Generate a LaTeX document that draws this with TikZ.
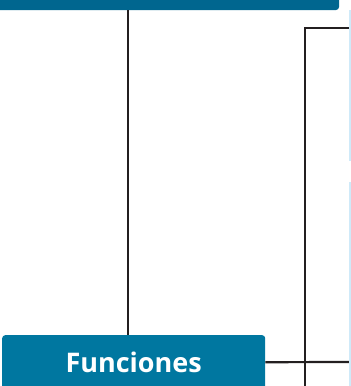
\documentclass[tikz,border=0pt]{standalone}
\usepackage{fontspec}
\setsansfont{Open Sans}
\definecolor{azulosc}{HTML}{00668F}
\definecolor{azul}{HTML}{0077A0}
\definecolor{celeste}{HTML}{CFEAF9}
\definecolor{linea}{HTML}{231F20}
\begin{document}
\begin{tikzpicture}[x=1pt,y=-1pt,
  caja/.style={fill=azul,rounded corners=3pt,text=white,inner sep=0pt,
    font=\sffamily\bfseries\fontsize{27}{27}\selectfont},
  conector/.style={draw=linea,line width=2.2pt}]
\useasboundingbox (0,0) rectangle (351,386);

% Barra superior
\fill[azulosc,rounded corners=3pt] (-6,-6) rectangle (339,10);
\coordinate (titulo) at (128,10);

% Caja de funciones
\node[caja,minimum width=263pt,minimum height=54pt,anchor=north west] (funciones) at (2,335) {Funciones};

% Conectores
\draw[conector] (titulo) -- (titulo |- funciones.north);
\coordinate (ramaA) at (349,28);
\coordinate (ramaB) at (305,392);
\coordinate (ramaC) at (349,362);
\draw[conector] (ramaA) -- (ramaB |- ramaA) -- (ramaB);
\draw[conector] (funciones.east) -- (ramaC);

% Linea celeste del borde
\draw[celeste,line width=1.5pt] (350,10) -- (350,161);
\draw[celeste,line width=1.5pt] (350,182) -- (350,392);
\end{tikzpicture}
\end{document}
